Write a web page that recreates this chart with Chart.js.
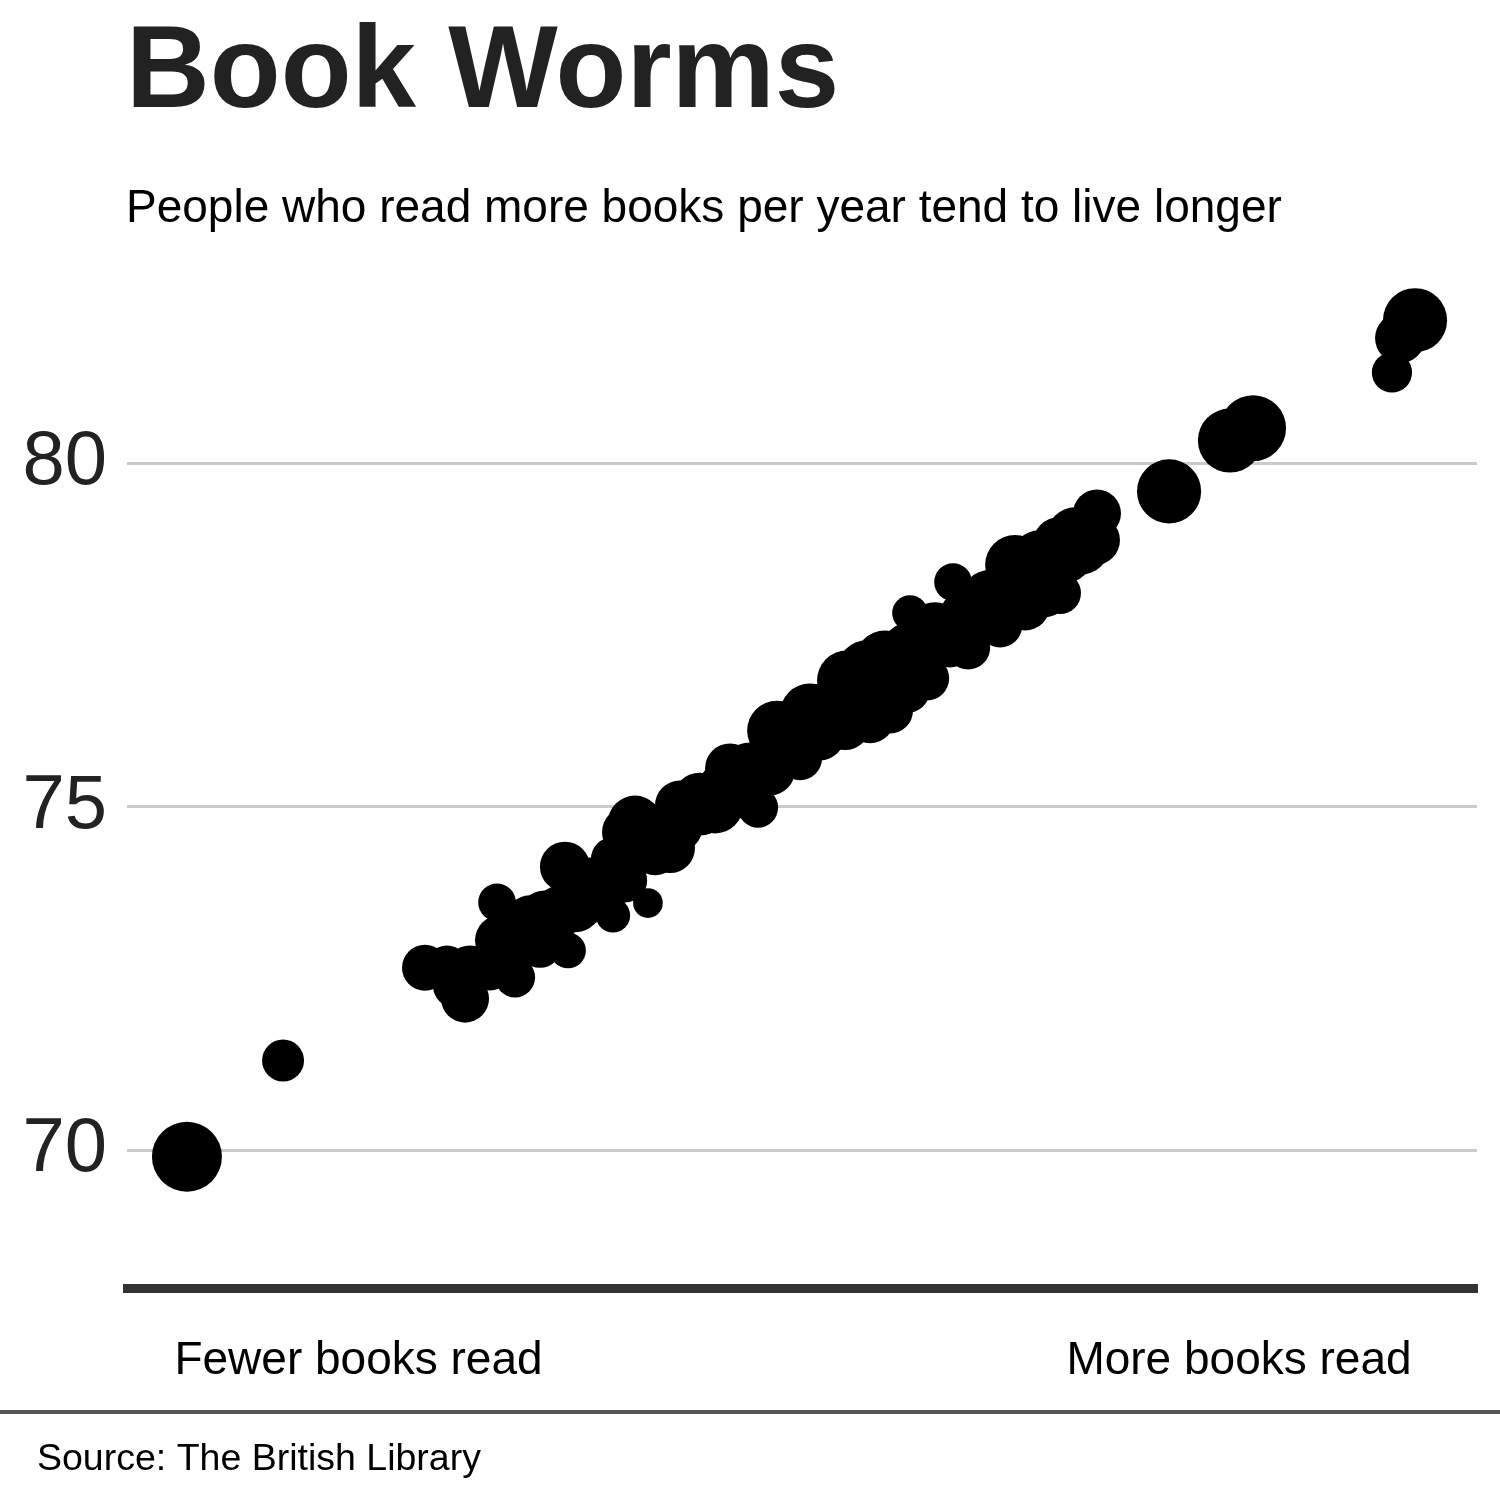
<!DOCTYPE html>
<html>
<head>
<meta charset="utf-8">
<script src="https://cdn.jsdelivr.net/npm/chart.js@4"></script>
<style>
  html, body { margin: 0; padding: 0; background: #fff; }
  #wrap { width: 1500px; height: 1500px; position: relative; }
</style>
</head>
<body>
<div id="wrap"><canvas id="c" width="1500" height="1500"></canvas></div>
<script>
// ---- Data ----
const titleText = "Book Worms";
const subtitleText = "People who read more books per year tend to live longer";
const sourceText = "Source: The British Library";

// reading index (0 = fewest books read, 100 = most)
const readingIndex = [
  4.44, 11.56, 22.07, 23.70, 25.04, 24.30, 26.89, 27.41, 28.74, 27.63,
  29.85, 30.59, 32.44, 32.67, 32.07, 33.93, 35.04, 36.00, 38.59, 36.89,
  37.11, 37.63, 39.11, 40.22, 40.96, 42.44, 43.56, 44.67, 45.41, 46.74,
  48.15, 47.63, 49.85, 50.59, 51.33, 53.19, 53.33, 55.04, 54.81, 56.52,
  56.15, 57.78, 58.00, 58.00, 59.26, 59.85, 61.19, 60.96, 62.30, 62.07,
  63.93, 64.67, 65.78, 66.52, 67.63, 68.00, 69.11, 69.11, 70.59, 70.22,
  71.85, 71.70, 77.19, 81.70, 83.41, 93.70, 94.30, 95.41, 36.00, 34.22,
  25.41, 29.11, 30.96, 33.19, 35.04, 38.00, 40.59, 42.44, 44.30, 46.15,
  49.11, 52.07, 54.30, 56.89, 59.11, 61.33, 63.56, 65.41, 67.26, 69.48,
  71.33, 28.30, 31.50
];
// life expectancy (years)
const lifeExpectancy = [
  69.91, 71.31, 72.66, 72.66, 72.21, 72.40, 72.65, 73.61, 72.52, 73.06,
  73.35, 72.98, 74.13, 72.91, 73.49, 73.64, 73.86, 73.42, 73.60, 73.93,
  74.63, 74.77, 74.37, 74.40, 75.02, 75.09, 75.02, 75.56, 75.24, 74.99,
  76.11, 75.53, 75.71, 76.36, 76.04, 76.19, 76.84, 76.29, 76.99, 76.40,
  77.13, 76.70, 77.82, 77.28, 76.87, 77.57, 78.27, 77.35, 77.32, 77.79,
  78.01, 77.64, 78.52, 77.93, 78.59, 78.08, 78.11, 78.81, 78.81, 78.95,
  79.27, 78.88, 79.59, 80.33, 80.51, 81.32, 81.82, 82.08, 74.24, 73.93,
  72.62, 73.14, 73.39, 73.57, 73.77, 74.44, 74.73, 74.99, 75.25, 75.53,
  75.98, 76.43, 76.64, 76.90, 77.29, 77.60, 77.86, 78.18, 78.37, 78.65,
  78.92, 72.85, 73.15
];
// readers sampled (thousands) -> bubble size
const readers = [
  100, 36, 43, 40, 47, 40, 40, 29, 33, 51,
  51, 40, 51, 26, 51, 51, 51, 24, 18, 40,
  55, 60, 51, 51, 51, 64, 64, 51, 64, 33,
  73, 51, 40, 73, 51, 51, 73, 51, 73, 43,
  73, 43, 26, 64, 40, 64, 29, 40, 40, 51,
  73, 40, 73, 51, 73, 40, 36, 64, 73, 64,
  47, 51, 84, 84, 89, 33, 51, 84, 40, 43,
  51, 55, 60, 60, 60, 64, 64, 64, 64, 64,
  64, 64, 64, 64, 64, 60, 60, 64, 64, 60,
  60, 40, 40
];

const yTicks = [70, 75, 80];
const xTickValues = [17.15, 82.37];
const xTickLabels = ["Fewer books read", "More books read"];

// ---- Build chart ----
const FONT = '"Liberation Sans", Arial, Helvetica, sans-serif';
const points = readingIndex.map((x, i) => ({
  x: x, y: lifeExpectancy[i], r: 3.5 * Math.sqrt(readers[i])
}));

const decor = {
  id: 'decor',
  afterDraw(chart) {
    const ctx = chart.ctx;
    ctx.save();
    ctx.textBaseline = 'alphabetic';
    ctx.textAlign = 'left';
    ctx.fillStyle = '#222222';
    ctx.font = 'bold 116px ' + FONT;
    ctx.fillText(titleText, 126, 107);
    ctx.fillStyle = '#000000';
    ctx.font = '46px ' + FONT;
    ctx.fillText(subtitleText, 126, 222);
    ctx.fillStyle = '#555555';
    ctx.fillRect(0, 1410, 1500, 4);
    ctx.fillStyle = '#000000';
    ctx.font = '37.5px ' + FONT;
    ctx.fillText(sourceText, 37, 1470);
    ctx.restore();
  }
};

new Chart(document.getElementById('c'), {
  type: 'bubble',
  data: {
    datasets: [{
      data: points,
      backgroundColor: '#000000',
      borderWidth: 0,
      hoverBorderWidth: 0
    }]
  },
  options: {
    responsive: false,
    animation: false,
    devicePixelRatio: 1,
    layout: { autoPadding: false, padding: { top: 257, right: 23, bottom: 102, left: 0 } },
    plugins: { legend: { display: false }, tooltip: { enabled: false } },
    scales: {
      x: {
        type: 'linear', min: 0, max: 100,
        afterBuildTicks: (s) => { s.ticks = xTickValues.map(v => ({ value: v })); },
        afterFit: (s) => { s.height = 110; },
        grid: { display: false, drawTicks: false },
        border: { display: true, color: '#333333', width: 9 },
        ticks: {
          autoSkip: false, maxRotation: 0, padding: 46,
          color: '#000000', font: { family: FONT, size: 46 },
          callback: (v, i) => xTickLabels[i]
        }
      },
      y: {
        type: 'linear', min: 68, max: 83,
        afterBuildTicks: (s) => { s.ticks = yTicks.map(v => ({ value: v })); },
        afterFit: (s) => { s.width = 127; },
        grid: { color: '#cbcbcb', lineWidth: 3, drawTicks: false },
        border: { display: false },
        ticks: {
          padding: 20, color: '#222222', font: { family: FONT, size: 76 },
          callback: (v) => String(v)
        }
      }
    }
  },
  plugins: [decor]
});
</script>
</body>
</html>
